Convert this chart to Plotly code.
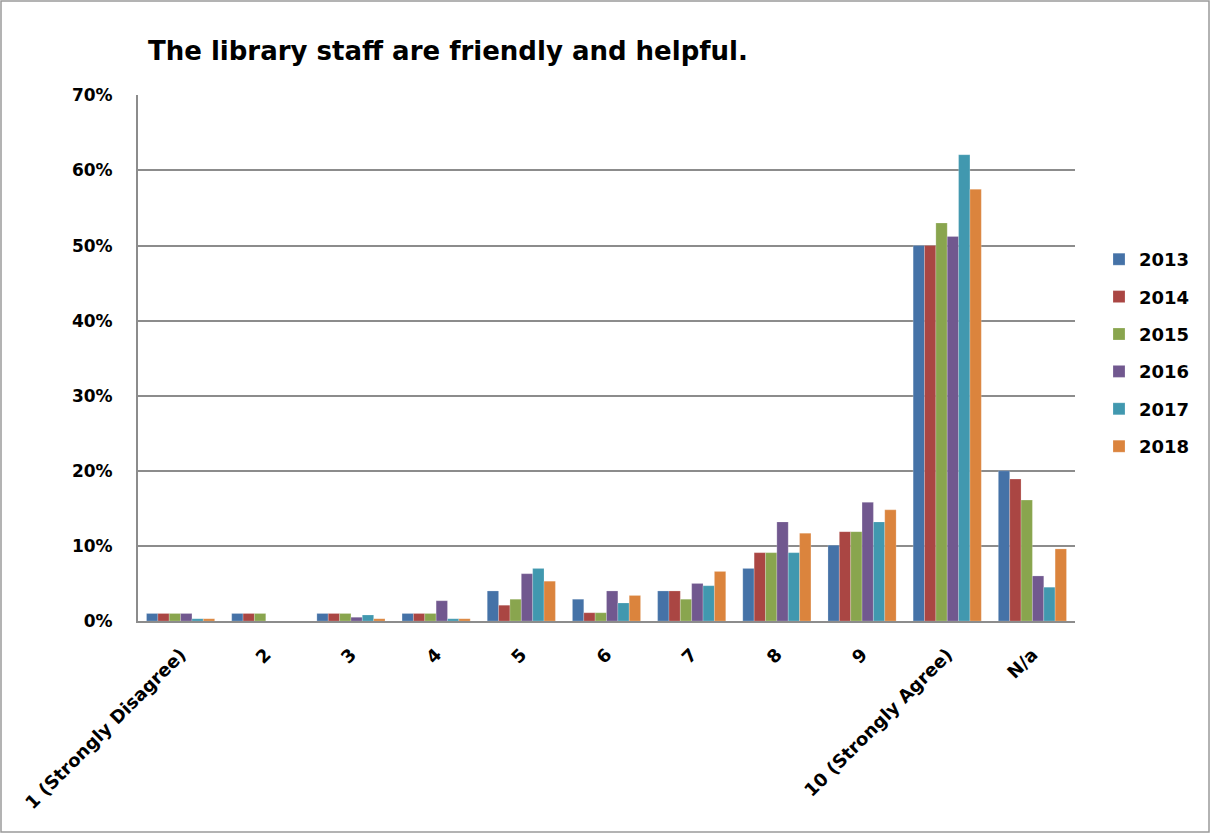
import plotly.graph_objects as go

categories = ["1 (Strongly Disagree)", "2", "3", "4", "5", "6", "7", "8", "9", "10 (Strongly Agree)", "N/a"]
years = ["2013", "2014", "2015", "2016", "2017", "2018"]
v2013 = [1.0, 1.0, 1.0, 1.0, 4.0, 2.9, 4.0, 7.0, 10.1, 50.0, 20.0]
v2014 = [1.0, 1.0, 1.0, 1.0, 2.1, 1.1, 4.0, 9.1, 11.9, 50.0, 18.9]
v2015 = [1.0, 1.0, 1.0, 1.0, 2.9, 1.1, 2.9, 9.1, 11.9, 53.0, 16.1]
v2016 = [1.0, 0.0, 0.5, 2.7, 6.3, 4.0, 5.0, 13.2, 15.8, 51.2, 6.0]
v2017 = [0.3, 0.0, 0.8, 0.3, 7.0, 2.4, 4.7, 9.1, 13.2, 62.1, 4.5]
v2018 = [0.3, 0.0, 0.3, 0.3, 5.3, 3.4, 6.6, 11.7, 14.8, 57.5, 9.6]
series = [v2013, v2014, v2015, v2016, v2017, v2018]
colors = ["#4572A7", "#AA4643", "#89A54E", "#71588F", "#4198AF", "#DB843D"]
ytick_vals = [0, 10, 20, 30, 40, 50, 60, 70]
ytick_text = ["<b>0%</b>", "<b>10%</b>", "<b>20%</b>", "<b>30%</b>", "<b>40%</b>", "<b>50%</b>", "<b>60%</b>", "<b>70%</b>"]
xtick_text = ["<b>" + c + "</b>" for c in categories]

W, H = 1211, 834
L, R, T, B = 138, 1075, 95, 621

fig = go.Figure()
for yr, vals, col in zip(years, series, colors):
    fig.add_trace(go.Bar(
        x=categories, y=vals, name="<b>" + yr + "</b>", legendgroup=yr,
        marker=dict(color=col, line=dict(color="rgba(255,255,255,0.35)", width=0.6)),
    ))

font_family = "'DejaVu Sans', sans-serif"
fig.update_layout(
    width=W, height=H,
    margin=dict(l=L, r=W - R, t=T, b=H - B, pad=0),
    paper_bgcolor="white", plot_bgcolor="white",
    barmode="group", bargap=0.2, bargroupgap=0,
    font=dict(family=font_family, size=16, color="#000000"),
    title=dict(
        text="<b>The library staff are friendly and helpful.</b>",
        x=148 / W, xref="container", xanchor="left",
        y=1 - 51 / H, yref="container", yanchor="middle",
        font=dict(family=font_family, size=26, color="#000000"),
    ),
    showlegend=True,
    legend=dict(
        x=(1099 - L) / (R - L), xanchor="left",
        y=(B - 241) / (B - T), yanchor="top",
        font=dict(family=font_family, size=18, color="#000000"),
        tracegroupgap=11, itemwidth=30,
        bgcolor="rgba(0,0,0,0)",
    ),
    xaxis=dict(
        tickangle=-45, showgrid=False, showline=True, linecolor="#8c8c8c", linewidth=2,
        ticks="", tickmode="array", tickvals=categories, ticktext=xtick_text,
        ticklabelstandoff=14,
        tickfont=dict(family=font_family, size=18, color="#000000"),
    ),
    yaxis=dict(
        range=[0, 70.05], tickmode="array", tickvals=ytick_vals, ticktext=ytick_text,
        showgrid=True, gridcolor="#8c8c8c", gridwidth=1.5,
        showline=True, linecolor="#8c8c8c", linewidth=2,
        ticks="", ticklabelstandoff=20,
        tickfont=dict(family=font_family, size=17, color="#000000"),
        zeroline=False,
    ),
)

# outer chart border
fig.add_shape(
    type="rect", xref="paper", yref="paper",
    x0=(1 - L) / (R - L), x1=(1209 - L) / (R - L),
    y0=(B - 832) / (B - T), y1=(B - 1) / (B - T),
    line=dict(color="#9a9a9a", width=1.5), fillcolor="rgba(0,0,0,0)", layer="below",
)

fig.write_html("out.html")
